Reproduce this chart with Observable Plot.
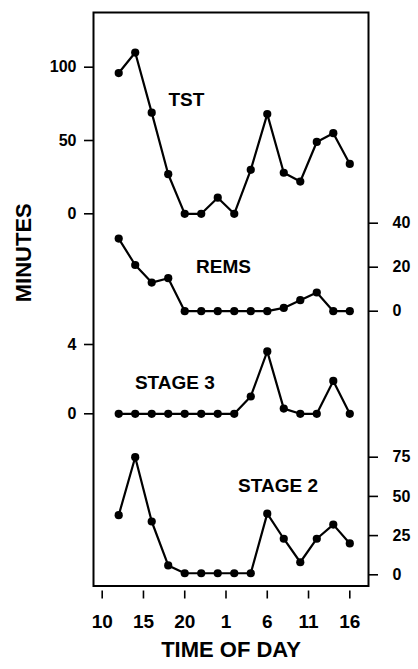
<!DOCTYPE html>
<html>
<head>
<meta charset="utf-8">
<script src="https://cdn.jsdelivr.net/npm/d3@7"></script>
<script src="https://cdn.jsdelivr.net/npm/@observablehq/plot@0.6"></script>
<style>
  html, body { margin: 0; padding: 0; background: white; }
  #chart { position: relative; width: 418px; height: 669px; }
  #chart svg { position: absolute; top: 0; left: 0; }
</style>
</head>
<body>
<div id="chart"></div>
<script>
// Time of day (hours, continuing past midnight: 25 = 1, 30 = 6 ...)
const hours = [12, 14, 16, 18, 20, 22, 24, 26, 28, 30, 32, 34, 36, 38, 40];
const tst    = [96, 110, 69, 27, 0, 0, 11, 0, 30, 68, 28, 22, 49, 55, 34];
const rems   = [33, 21, 13, 15, 0, 0, 0, 0, 0, 0, 1.5, 5, 8.5, 0, 0];
const stage3 = [0, 0, 0, 0, 0, 0, 0, 0, 1, 3.6, 0.3, 0, 0, 1.9, 0];
const stage2 = [38, 75, 34, 6, 1, 1, 1, 1, 1, 39, 23, 8, 23, 32, 20];

const xTicks = [10, 15, 20, 25, 30, 35, 40];
const xTickLabels = ["10", "15", "20", "1", "6", "11", "16"];

const tstTicks = [0, 50, 100];
const remsTicks = [0, 20, 40];
const stage3Ticks = [0, 4];
const stage2Ticks = [0, 25, 50, 75];

const panelLabels = ["TST", "REMS", "STAGE 3", "STAGE 2"];
const labelX = [20.2, 24.7, 18.8, 31.3];
const labelY = [77.5, 20, 1.8, 57];

const W = 418, H = 669;
const common = {
  width: W, height: H,
  marginLeft: 93, marginRight: 50, marginTop: 12, marginBottom: 83.5,
  style: {background: "transparent", overflow: "visible", fontFamily: "'Liberation Sans', Arial, Helvetica, sans-serif", fontWeight: "bold", color: "black"}
};
const xScale = {domain: [10, 40], range: [101.7, 349.3]};

const rows = (vals) => hours.map((h, i) => ({hour: h, v: vals[i]}));

function panel(vals, yDomain, yRange, ticks, anchor, idx, extra = []) {
  const data = rows(vals);
  return Plot.plot({
    ...common,
    x: {...xScale, axis: null},
    y: {domain: yDomain, range: yRange},
    marks: [
      ...extra,
      Plot.axisY({ticks, tickFormat: (d) => String(d), anchor, tickSize: 9, tickPadding: anchor === "left" ? 8 : 15, fontSize: 16, label: null, strokeWidth: 1.6}),
      Plot.line(data, {x: "hour", y: "v", stroke: "black", strokeWidth: 2.2}),
      Plot.dot(data, {x: "hour", y: "v", r: 4.1, fill: "black"}),
      Plot.text([panelLabels[idx]], {x: [labelX[idx]], y: [labelY[idx]], fontSize: 19, fontWeight: "bold", fill: "black"})
    ]
  });
}

const base = panel(tst, [0, 100], [213.3, 66.7], tstTicks, "left", 0, [
  Plot.frame({stroke: "black", strokeWidth: 2}),
  Plot.axisX({ticks: xTicks, tickFormat: (d) => xTickLabels[xTicks.indexOf(d)], tickSize: 8, dy: 5, tickPadding: 15, fontSize: 19, label: null, strokeWidth: 1.6}),
  Plot.text(["TIME OF DAY"], {frameAnchor: "bottom", dy: 71, fontSize: 22, fontWeight: "bold", fill: "black"}),
  Plot.text(["MINUTES"], {frameAnchor: "left", dx: -70, dy: 3, rotate: -90, fontSize: 22, fontWeight: "bold", fill: "black"})
]);

const p2 = panel(rems, [0, 40], [310.7, 222.7], remsTicks, "right", 1);
const p3 = panel(stage3, [0, 4], [413.3, 344], stage3Ticks, "left", 2);
const p4 = panel(stage2, [0, 75], [574.3, 456.7], stage2Ticks, "right", 3);

const chart = document.getElementById("chart");
[base, p2, p3, p4].forEach((s) => chart.appendChild(s));
</script>
</body>
</html>
